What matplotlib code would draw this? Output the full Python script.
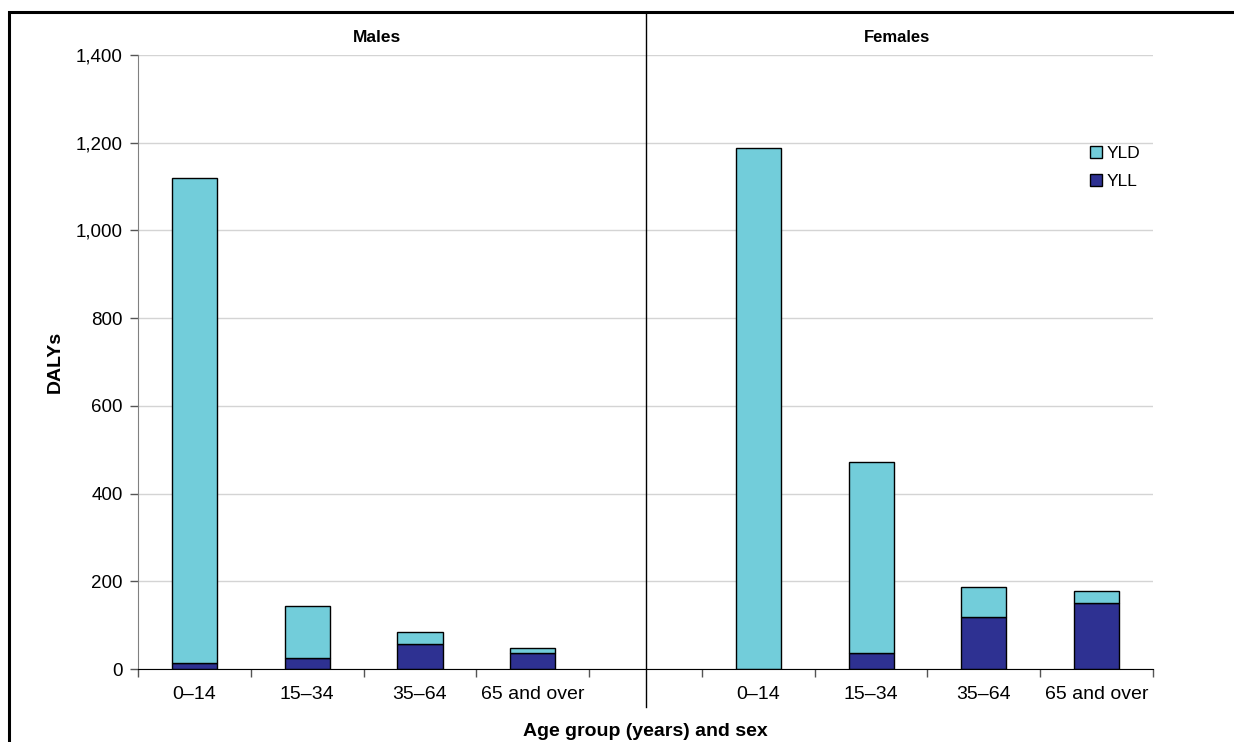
import matplotlib
matplotlib.use("Agg")
import matplotlib.pyplot as plt
import matplotlib.ticker as ticker
from matplotlib.patches import Rectangle
from matplotlib.lines import Line2D
import numpy as np

plt.rcParams['font.family'] = ['Liberation Sans', 'DejaVu Sans']

# data (DALYs)
age_groups = ['0\u201314', '15\u201334', '35\u201364', '65 and over']
males_yll = [14, 25, 57, 36]
males_yld = [1106, 119, 27, 13]
females_yll = [1, 36, 119, 151]
females_yld = [1187, 435, 67, 27]

yld_col = '#72CDDA'
yll_col = '#2E3192'

# 9 slots: 4 male groups, empty gap (divider), 4 female groups
pos_m = np.arange(4)
pos_f = np.arange(5, 9)
labels = age_groups + [''] + age_groups

W, H = 1234, 742
fig = plt.figure(figsize=(W / 100, H / 100), dpi=100)
ax = fig.add_axes([138 / W, 1 - 669 / H, 1015 / W, 614 / H])

bw = 0.4
ax.bar(pos_m, males_yll, bw, color=yll_col, edgecolor='black', lw=1.0, zorder=3, label='YLL')
ax.bar(pos_m, males_yld, bw, bottom=males_yll, color=yld_col, edgecolor='black', lw=1.0, zorder=3, label='YLD')
ax.bar(pos_f, females_yll, bw, color=yll_col, edgecolor='black', lw=1.0, zorder=3)
ax.bar(pos_f, females_yld, bw, bottom=females_yll, color=yld_col, edgecolor='black', lw=1.0, zorder=3)

ax.set_xlim(-0.5, 8.5)
ax.set_ylim(0, 1400)
ax.yaxis.set_major_locator(ticker.MultipleLocator(200))
ax.yaxis.set_major_formatter(ticker.FuncFormatter(lambda v, p: '{:,.0f}'.format(v)))
ax.grid(axis='y', color='#D4D4D4', lw=1.0, zorder=0)

ax.set_xticks(np.arange(-0.5, 9, 1))
ax.set_xticklabels([])
ax.set_xticks(np.arange(9), minor=True)
ax.set_xticklabels(labels, minor=True)
ax.tick_params(axis='x', which='major', length=6, width=1, color='#555555', direction='out')
ax.tick_params(axis='x', which='minor', length=0, pad=12, labelsize=14)
ax.tick_params(axis='y', length=6, width=1, color='#555555', labelsize=13.5, pad=5)

for s in ['top', 'right']:
    ax.spines[s].set_visible(False)
ax.spines['left'].set_color('#808080')
ax.spines['bottom'].set_color('black')
ax.spines['bottom'].set_zorder(4)

# divider between the two panels
xd = ax.transData.transform((4, 0))[0] / W
fig.add_artist(Line2D([xd, xd], [1 - 12 / H, 1 - 707 / H], color='black', lw=1.0))

# frame around the figure
fig.add_artist(Rectangle((9 / W, -0.05), 1.1, 1 - 12 / H + 0.05, fill=False,
                         edgecolor='black', lw=2.2, transform=fig.transFigure))

fig.text(377 / W, 1 - 37 / H, 'Males', ha='center', va='center', fontsize=12.5, fontweight='bold')
fig.text(897 / W, 1 - 37 / H, 'Females', ha='center', va='center', fontsize=12, fontweight='bold')
fig.text(55 / W, 1 - 362 / H, 'DALYs', ha='center', va='center', rotation=90, fontsize=14, fontweight='bold')
fig.text(645 / W, 1 - 731 / H, 'Age group (years) and sex', ha='center', va='center', fontsize=14, fontweight='bold')

h, l = ax.get_legend_handles_labels()
ax.legend(h[::-1], l[::-1], loc='upper left', bbox_to_anchor=(0.931, 0.863), frameon=False,
          fontsize=12.5, handlelength=0.7, handleheight=0.7, handletextpad=0.25,
          labelspacing=0.75, borderaxespad=0)

fig.savefig('out.png', dpi=100)
